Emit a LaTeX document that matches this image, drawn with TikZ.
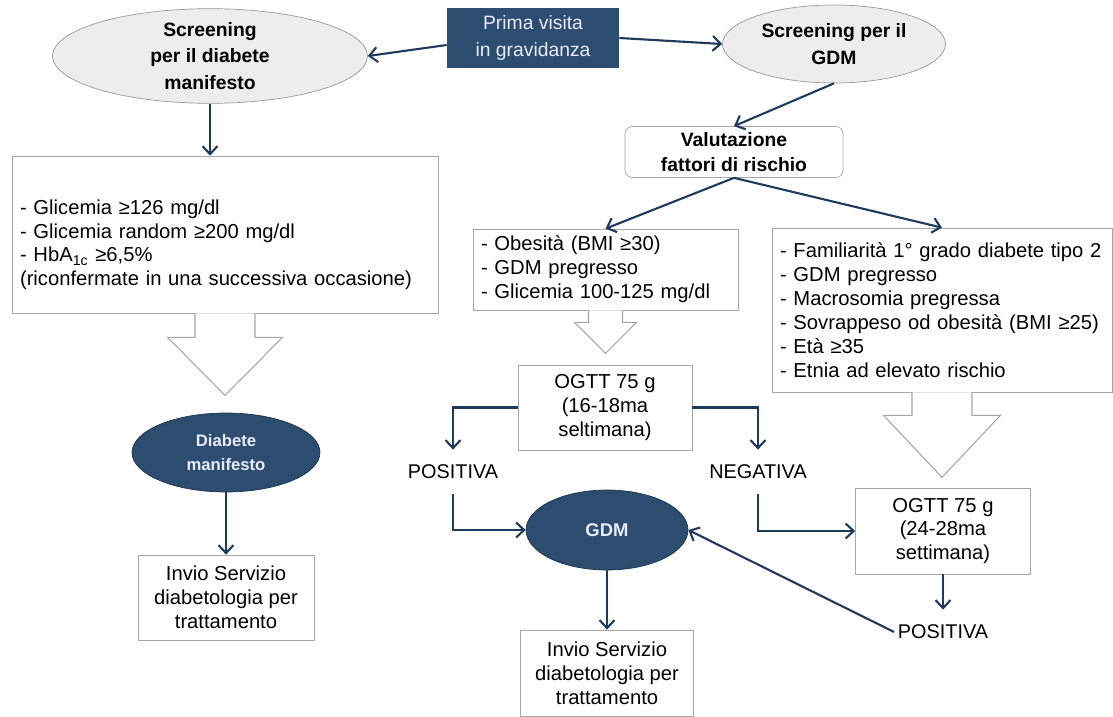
\documentclass[tikz,border=0pt]{standalone}
\usepackage{fontspec}
\setmainfont{Liberation Sans}
\usetikzlibrary{calc,arrows.meta,shapes.geometric}
\definecolor{navy}{HTML}{2C4C70}
\definecolor{linkblue}{HTML}{1F3B5B}
\tikzset{
	flow/.style={draw=linkblue, line width=1.2pt, -{Straight Barb[length=1.6mm,width=3mm]}},
	link/.style={draw=linkblue, line width=1.2pt},
	startbox/.style={rectangle, fill=navy, text=blue!8!white, align=center, inner sep=0pt, font=\fontsize{11}{15}\selectfont},
	lightoval/.style={ellipse, draw=gray!80, fill=gray!14, align=center, inner sep=0pt, font=\fontsize{11}{15}\selectfont\bfseries},
	darkoval/.style={ellipse, draw=navy!70!black, fill=navy, text=blue!8!white, align=center, inner sep=0pt, font=\fontsize{9.5}{13.5}\selectfont\bfseries},
	roundbox/.style={rectangle, rounded corners=4pt, draw=gray!70, align=center, inner sep=0pt, font=\fontsize{11}{14}\selectfont\bfseries},
	listbox/.style={rectangle, draw=gray!70, align=left, inner xsep=0.16cm, inner ysep=0pt, font=\fontsize{11.5}{13.6}\selectfont},
	textbox/.style={rectangle, draw=gray!70, align=center, inner sep=0pt, font=\fontsize{11.5}{13.6}\selectfont},
	result/.style={inner xsep=2pt, inner ysep=0.3cm, font=\fontsize{11.3}{13}\selectfont},
	blockarrow/.style={draw=gray!70, fill=white, line width=0.6pt}
}
% hollow block arrow below a node: (anchor)(stem half width:head half width:stem length:total length)
\def\hollowarrow(#1)(#2:#3:#4:#5){\draw[blockarrow] ($(#1)+(-#2,0)$) -- ($(#1)+(-#2,#4)$) -- ($(#1)+(-#3,#4)$) -- ($(#1)+(0,#5)$) -- ($(#1)+(#3,#4)$) -- ($(#1)+(#2,#4)$) -- ($(#1)+(#2,0)$);}

\begin{document}
\begin{tikzpicture}[x=0.02cm, y=-0.02cm]
	%%%%% START %%%%%
	\useasboundingbox (0,0) rectangle (1113,717);

	\node[startbox, minimum width=3.44cm, minimum height=1.2cm] (visit) at (533,38) {Prima visita\\in gravidanza};
	\node[lightoval, minimum width=6.3cm, minimum height=1.64cm] (scrdm) at (210,56) {Screening\\per il diabete\\manifesto};
	\node[lightoval, minimum width=4.46cm, minimum height=1.56cm] (scrgdm) at (834,44) {Screening per il\\GDM};
	\node[roundbox, minimum width=4.36cm, minimum height=1.02cm] (risk) at (734,152) {Valutazione\\fattori di rischio};

	\node[listbox, text width=8.2cm, minimum height=3.14cm] (dmcrit) at (225,234.5) {\rule{0pt}{20pt}- Glicemia ≥126 mg/dl\\- Glicemia random ≥200 mg/dl\\- HbA\textsubscript{1c} ≥6,5\%\\(riconfermate in una successiva occasione)};
	\node[listbox, text width=4.98cm, minimum height=1.62cm] (midrisk) at (605.5,269.5) {- Obesità (BMI ≥30)\\- GDM pregresso\\- Glicemia 100-125 mg/dl};
	\node[listbox, text width=6.48cm, minimum height=3.28cm] (rightrisk) at (942,310) {- Familiarità 1° grado diabete tipo 2\\- GDM pregresso\\- Macrosomia pregressa\\- Sovrappeso od obesità (BMI ≥25)\\- Età ≥35\\- Etnia ad elevato rischio};

	\hollowarrow(dmcrit.south)(30:57.5:24:82)
	\hollowarrow(midrisk.south)(17:31:12:43)
	\hollowarrow(rightrisk.south)(30:58.5:23:85)

	\node[darkoval, minimum width=3.76cm, minimum height=1.58cm] (dmoval) at (226,452.5) {Diabete\\manifesto};
	\node[textbox, minimum width=3.52cm, minimum height=1.7cm] (dmsend) at (226,597.5) {Invio Servizio\\diabetologia per\\trattamento};

	\node[textbox, minimum width=3.48cm, minimum height=1.7cm] (ogttearly) at (605,407.5) {OGTT 75 g\\(16-18ma\\seltimana)};
	\node[result] (posearly) at (453,472) {POSITIVA};
	\node[result] (negearly) at (758,472) {NEGATIVA};
	\node[darkoval, minimum width=3.24cm, minimum height=1.6cm, font=\fontsize{10.5}{13}\selectfont\bfseries] (gdm) at (607,530) {GDM};
	\node[textbox, minimum width=3.46cm, minimum height=1.72cm] (gdmsend) at (607,673) {Invio Servizio\\diabetologia per\\trattamento};
	\node[textbox, minimum width=3.5cm, minimum height=1.72cm] (ogttlate) at (943,531) {OGTT 75 g\\(24-28ma\\settimana)};
	\node[result] (poslate) at (943,632) {POSITIVA};

	\draw[flow] ($(visit.west)+(0,7)$) -- (scrdm.east);
	\draw[flow] (visit.east) -- (scrgdm.west);
	\draw[flow] (scrdm.south) -- (scrdm.south |- dmcrit.north);
	\draw[flow] (scrgdm.south) -- (risk.north);
	\draw[flow] (risk.south) -- (midrisk.north);
	\draw[flow] (risk.south) -- (rightrisk.north);
	\draw[flow] (dmoval.south) -- (dmsend.north);

	\draw[flow] (ogttearly.west) -| (posearly.north);
	\draw[flow] (ogttearly.east) -| (negearly.north);
	\draw[flow] (posearly.south) |- (gdm.west);
	\draw[flow] (negearly.south) |- (ogttlate.west);
	\draw[flow] (gdm.south) -- (gdmsend.north);
	\draw[flow] (ogttlate.south) -- (poslate.north);
	\draw[flow] (poslate.west) -- (gdm.east);

	%%%%% END %%%%%
\end{tikzpicture}
\end{document}
